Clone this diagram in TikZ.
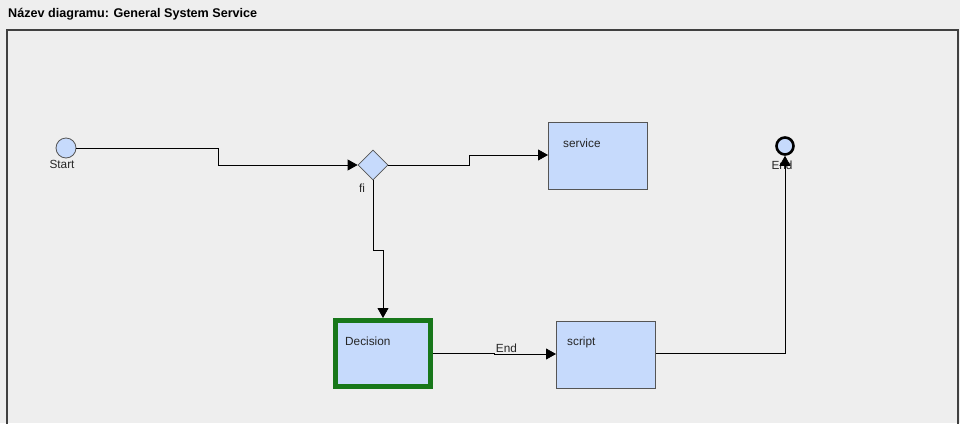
\documentclass[tikz,border=0pt]{standalone}
\usepackage{fontspec}
\setmainfont{Liberation Sans}
\usetikzlibrary{arrows.meta,shapes.geometric}
\definecolor{bg}{HTML}{EEEEEE}
\definecolor{boxfill}{HTML}{C6DAFC}
\definecolor{boxline}{HTML}{555555}
\definecolor{dgreen}{HTML}{17771A}
\begin{document}
\begin{tikzpicture}[x=1pt,y=-1pt,
  every node/.style={font=\fontsize{11.8}{14}\selectfont, text=black!85},
  task/.style={draw=boxline, fill=boxfill, line width=0.8pt, minimum width=99pt, minimum height=67pt, inner sep=0pt},
  tasklabel/.style={anchor=west, inner sep=0pt},
  conn/.style={draw=black, line width=0.8pt},
  arr/.style={conn, -{Triangle[length=10pt,width=11pt]}},
  gate/.style={diamond, draw=boxline, fill=boxfill, line width=0.8pt, minimum width=30pt, minimum height=30pt, inner sep=0pt},
  startev/.style={circle, draw=boxline, fill=boxfill, line width=0.8pt, minimum size=20pt, inner sep=0pt},
  endev/.style={circle, draw=black, fill=boxfill, line width=2.6pt, minimum size=17pt, inner sep=0pt}
]
\useasboundingbox (0,0) rectangle (960,423);
\fill[bg] (0,0) rectangle (960,423);
\node[anchor=west, inner sep=0pt, font=\bfseries\fontsize{12.6}{15}\selectfont, text=black] (title) at (8,14) {Název diagramu: General System Service};
\draw[line width=1.2pt, draw=black!75] (7,424) -- (7,30) -- (958,30) -- (958,424);

\node[startev] (start) at (66,148) {};
\node[inner sep=0pt] (startlbl) at (62,164) {Start};
\node[gate] (fi) at (373,165) {};
\node[inner sep=0pt] (filbl) at (362,188) {fi};
\node[task, anchor=north west] (service) at (548,122) {};
\node[tasklabel] (servicelbl) at (563,143) {service};
\node[task, anchor=north west, draw=dgreen, line width=4.5pt, minimum width=95pt, minimum height=66pt] (decision) at (333,318) {};
\node[tasklabel] (decisionlbl) at (345,341) {Decision};
\node[task, anchor=north west] (script) at (556,321) {};
\node[tasklabel] (scriptlbl) at (567,342) {script};
\node[endev] (end) at (785,146) {};
\node[inner sep=0pt] (endlbl) at (782,165) {End};

\draw[arr] (start.east) -- (218,148) -- (218,165) -- (fi.west);
\draw[arr] (fi.east) -- (469,165) -- (469,155) -- (service.west |- 0,155);
\draw[arr] (fi.south) -- (373,250) -- (383,250) -- (decision.north -| 383,0);
\draw[arr] (decision.east |- 0,353) -- (494,353) -- (494,354) -- (script.west |- 0,354) node[pos=0.2, above, inner sep=1pt] (endedge) {End};
\draw[arr] (script.east |- 0,353) -- (785,353) -- (end.south);
\end{tikzpicture}
\end{document}
